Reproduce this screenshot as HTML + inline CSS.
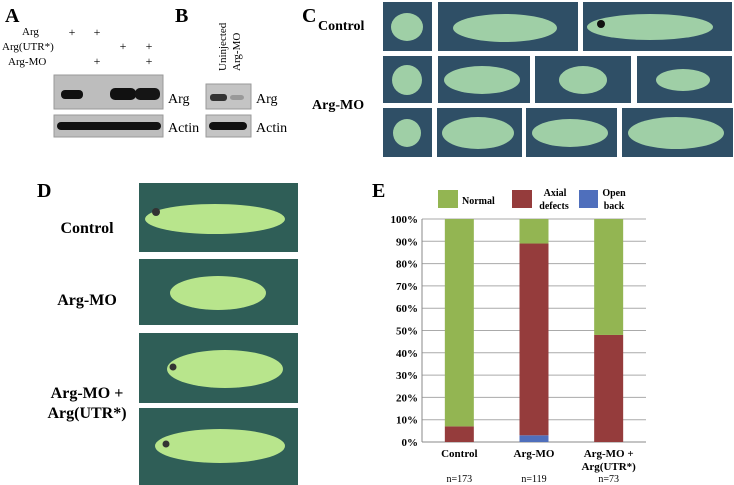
<!DOCTYPE html>
<html><head><meta charset="utf-8"><style>
body{margin:0;background:#fff;width:734px;height:485px;overflow:hidden}
svg{display:block}
text{font-family:"Liberation Serif",serif}
</style></head><body>
<svg width="734" height="485" viewBox="0 0 734 485" xmlns="http://www.w3.org/2000/svg">
<g>
<text x="5" y="22" font-size="20" font-weight="bold">A</text>
<text x="22" y="35" font-size="11">Arg</text>
<text x="2" y="50" font-size="11">Arg(UTR*)</text>
<text x="8" y="65" font-size="11">Arg-MO</text>
<g font-size="12" text-anchor="middle">
<text x="72" y="36">+</text><text x="97" y="36">+</text>
<text x="123" y="50">+</text><text x="149" y="50">+</text>
<text x="97" y="65">+</text><text x="149" y="65">+</text></g>
<rect x="54" y="75" width="109" height="34" fill="#bdbdbd" stroke="#999"/>
<rect x="61" y="90" width="22" height="9" rx="4" fill="#111"/>
<rect x="110" y="88" width="26" height="12" rx="5" fill="#111"/>
<rect x="135" y="88" width="25" height="12" rx="5" fill="#151515"/>
<rect x="54" y="115" width="109" height="22" fill="#bdbdbd" stroke="#999"/>
<rect x="57" y="122" width="104" height="8" rx="4" fill="#111"/>
<text x="168" y="103" font-size="14">Arg</text>
<text x="168" y="132" font-size="14">Actin</text>
</g>
<g>
<text x="175" y="22" font-size="20" font-weight="bold">B</text>
<text transform="translate(226,71) rotate(-90)" font-size="11">Uninjected</text>
<text transform="translate(240,71) rotate(-90)" font-size="11">Arg-MO</text>
<rect x="206" y="84" width="45" height="25" fill="#c4c4c4" stroke="#999"/>
<rect x="210" y="94" width="17" height="7" rx="3" fill="#333"/>
<rect x="230" y="95" width="14" height="5" rx="3" fill="#999"/>
<rect x="206" y="115" width="45" height="22" fill="#c4c4c4" stroke="#999"/>
<rect x="209" y="122" width="38" height="8" rx="4" fill="#111"/>
<text x="256" y="103" font-size="14">Arg</text>
<text x="256" y="132" font-size="14">Actin</text>
</g>
<g>
<text x="302" y="22" font-size="20" font-weight="bold">C</text>
<text x="318" y="30" font-size="14" font-weight="bold">Control</text>
<text x="312" y="109" font-size="14" font-weight="bold">Arg-MO</text>
<g fill="#2f4f66">
<rect x="383" y="2" width="49" height="49"/><rect x="438" y="2" width="140" height="49"/><rect x="583" y="2" width="149" height="49"/>
<rect x="383" y="56" width="49" height="47"/><rect x="438" y="56" width="92" height="47"/><rect x="535" y="56" width="96" height="47"/><rect x="637" y="56" width="95" height="47"/>
<rect x="383" y="108" width="49" height="49"/><rect x="437" y="108" width="85" height="49"/><rect x="526" y="108" width="91" height="49"/><rect x="622" y="108" width="111" height="49"/>
</g>
<g fill="#9fcfa6">
<ellipse cx="407" cy="27" rx="16" ry="14"/><ellipse cx="505" cy="28" rx="52" ry="14"/><ellipse cx="650" cy="27" rx="63" ry="13"/>
<ellipse cx="407" cy="80" rx="15" ry="15"/><ellipse cx="482" cy="80" rx="38" ry="14"/><ellipse cx="583" cy="80" rx="24" ry="14"/><ellipse cx="683" cy="80" rx="27" ry="11"/>
<ellipse cx="407" cy="133" rx="14" ry="14"/><ellipse cx="478" cy="133" rx="36" ry="16"/><ellipse cx="570" cy="133" rx="38" ry="14"/><ellipse cx="676" cy="133" rx="48" ry="16"/>
</g>
<circle cx="601" cy="24" r="4" fill="#111"/>
</g>
<g>
<text x="37" y="197" font-size="20" font-weight="bold">D</text>
<text x="87" y="233" font-size="16" font-weight="bold" text-anchor="middle">Control</text>
<text x="87" y="305" font-size="16" font-weight="bold" text-anchor="middle">Arg-MO</text>
<text x="87" y="398" font-size="16" font-weight="bold" text-anchor="middle">Arg-MO +</text>
<text x="87" y="418" font-size="16" font-weight="bold" text-anchor="middle">Arg(UTR*)</text>
<g fill="#2f5e57">
<rect x="139" y="183" width="159" height="69"/><rect x="139" y="259" width="159" height="66"/><rect x="139" y="333" width="159" height="70"/><rect x="139" y="408" width="159" height="77"/>
</g>
<g fill="#b8e58c">
<ellipse cx="215" cy="219" rx="70" ry="15"/><ellipse cx="218" cy="293" rx="48" ry="17"/><ellipse cx="225" cy="369" rx="58" ry="19"/><ellipse cx="220" cy="446" rx="65" ry="17"/>
</g>
<g fill="#333"><circle cx="156" cy="212" r="4"/><circle cx="173" cy="367" r="3.5"/><circle cx="166" cy="444" r="3.5"/></g>
</g>
<g id="chart">
<text x="372" y="197" font-size="20" font-weight="bold">E</text>
<rect x="438" y="190" width="20" height="18" fill="#93b552"/>
<text x="462" y="204" font-size="10" font-weight="bold">Normal</text>
<rect x="512" y="190" width="20" height="18" fill="#953c3c"/>
<text x="555" y="196" font-size="10" font-weight="bold" text-anchor="middle">Axial</text>
<text x="554" y="209" font-size="10" font-weight="bold" text-anchor="middle">defects</text>
<rect x="579" y="190" width="19" height="18" fill="#4f6fbc"/>
<text x="614" y="196" font-size="10" font-weight="bold" text-anchor="middle">Open</text>
<text x="614" y="209" font-size="10" font-weight="bold" text-anchor="middle">back</text>
<g id="grid"></g><g id="bars"></g><g id="labels"></g>
</g>
</svg>
<script>
const categories = ["Control", "Arg-MO", "Arg-MO +|Arg(UTR*)"];
const nLabels = ["n=173", "n=119", "n=73"];
const openBack = [0, 3, 0];
const axialDefects = [7, 86, 48];
const normal = [93, 11, 52];
const yTicks = [0,10,20,30,40,50,60,70,80,90,100];
const NS = "http://www.w3.org/2000/svg";
const x0 = 422, x1 = 646, yTop = 219, yBot = 442, barW = 29;
const y = v => yBot - (v/100)*(yBot-yTop);
const xc = i => x0 + (x1-x0)*(i+0.5)/categories.length;
function mk(t, a, p){const e=document.createElementNS(NS,t);for(const k in a)e.setAttribute(k,a[k]);p.appendChild(e);return e;}
const grid=document.getElementById('grid'), bars=document.getElementById('bars'), labels=document.getElementById('labels');
yTicks.forEach(t=>{
  const l=mk('line',{x1:x0,x2:x1,y1:y(t),y2:y(t),stroke:t===0?'#888':'#aaa','stroke-width':1},grid);
  
  
  const tx=mk('text',{x:x0-4,y:y(t)+4,'font-size':11,'font-weight':'bold','text-anchor':'end'},grid);
  tx.textContent=t+'%';
  
  
});
const ax=mk('line',{x1:x0,x2:x0,y1:yTop,y2:yBot,stroke:'#888'},grid);


const series=[[openBack,'#4f6fbc','open-back'],[axialDefects,'#953c3c','axial'],[normal,'#93b552','normal']];
categories.forEach((c,i)=>{
  let base=0;
  series.forEach(([arr,col,nm])=>{
    const v=arr[i]; if(v<=0) return;
    const r=mk('rect',{x:xc(i)-barW/2,y:y(base+v),width:barW,height:y(base)-y(base+v),fill:col},bars);
    
    
    base+=v;
  });
  c.split('|').forEach((s,k)=>{
    const t=mk('text',{x:xc(i),y:457+k*13,'font-size':11,'font-weight':'bold','text-anchor':'middle'},labels);
    t.textContent=s;
    
    
  });
  const n=mk('text',{x:xc(i),y:482,'font-size':10,'text-anchor':'middle'},labels);
  n.textContent=nLabels[i];
  
  
});
</script>
</body></html>
